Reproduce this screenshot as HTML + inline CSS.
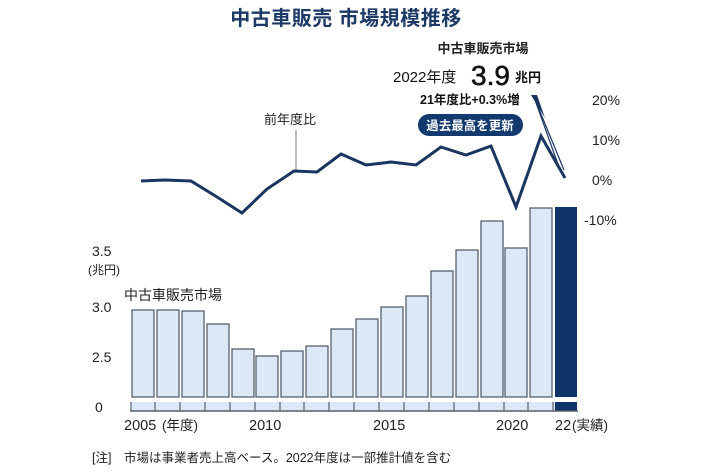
<!DOCTYPE html>
<html><head><meta charset="utf-8"><style>
body{margin:0;background:#fff;}
svg{display:block;font-family:"Liberation Sans","Noto Sans CJK JP",sans-serif;}
</style></head><body>
<svg width="710" height="474" viewBox="0 0 710 474">
<text x="346" y="25" text-anchor="middle" font-size="20" font-weight="bold" fill="#1d3a66" letter-spacing="0.5">中古車販売  市場規模推移</text>
<text x="483" y="53" text-anchor="middle" font-size="13" font-weight="bold" fill="#222">中古車販売市場</text>
<text x="393" y="82" font-size="15" fill="#111">2022年度</text>
<text x="471" y="85" font-size="28" fill="#111" stroke="#111" stroke-width="0.6">3.9</text>
<text x="515" y="82" font-size="13" font-weight="bold" fill="#111">兆円</text>
<text x="420" y="104" font-size="12.5" font-weight="bold" fill="#111">21年度比+0.3%増</text>
<rect x="418" y="114" width="105" height="22" rx="11" fill="#123a6e"/>
<text x="470" y="130" text-anchor="middle" font-size="12.5" font-weight="bold" fill="#fff">過去最高を更新</text>
<text x="264" y="124" font-size="13" fill="#222">前年度比</text>
<line x1="296" y1="130" x2="296" y2="171" stroke="#777" stroke-width="1"/>
<g font-size="14" fill="#222">
<text x="592" y="105">20%</text><text x="592" y="145">10%</text><text x="592" y="185">0%</text><text x="584" y="225">-10%</text>
<text x="92" y="256">3.5</text><text x="88" y="274" font-size="12">(兆円)</text>
<text x="92" y="312">3.0</text><text x="92" y="362">2.5</text><text x="95" y="412">0</text>
</g>
<text x="124" y="300" font-size="14" fill="#222">中古車販売市場</text>
<g fill="#dce8f6" stroke="#55606e" stroke-width="1.3">
<rect x="132" y="310" width="22" height="87"/><rect x="157" y="310" width="22" height="87"/><rect x="182" y="311" width="22" height="86"/><rect x="207" y="324" width="22" height="73"/><rect x="232" y="349" width="22" height="48"/><rect x="256" y="356" width="22" height="41"/><rect x="281" y="351" width="22" height="46"/><rect x="306" y="346" width="22" height="51"/><rect x="331" y="329" width="22" height="68"/><rect x="356" y="319" width="22" height="78"/><rect x="381" y="307" width="22" height="90"/><rect x="406" y="296" width="22" height="101"/><rect x="431" y="271" width="22" height="126"/><rect x="456" y="250" width="22" height="147"/><rect x="481" y="221" width="22" height="176"/><rect x="505" y="248" width="22" height="149"/><rect x="530" y="208" width="22" height="189"/>
</g>
<rect x="555" y="207" width="22" height="190" fill="#0f3468"/>
<rect x="131" y="402" width="424" height="9" fill="#dce8f6"/>
<rect x="555" y="402" width="22" height="9" fill="#0f3468"/>
<line x1="130" y1="411" x2="578" y2="411" stroke="#55606e" stroke-width="1.5"/>
<g stroke="#55606e" stroke-width="1.2">
<line x1="131" y1="402" x2="131" y2="411"/><line x1="155" y1="402" x2="155" y2="411"/><line x1="180" y1="402" x2="180" y2="411"/><line x1="205" y1="402" x2="205" y2="411"/><line x1="230" y1="402" x2="230" y2="411"/><line x1="255" y1="402" x2="255" y2="411"/><line x1="280" y1="402" x2="280" y2="411"/><line x1="304" y1="402" x2="304" y2="411"/><line x1="329" y1="402" x2="329" y2="411"/><line x1="354" y1="402" x2="354" y2="411"/><line x1="379" y1="402" x2="379" y2="411"/><line x1="404" y1="402" x2="404" y2="411"/><line x1="429" y1="402" x2="429" y2="411"/><line x1="454" y1="402" x2="454" y2="411"/><line x1="479" y1="402" x2="479" y2="411"/><line x1="504" y1="402" x2="504" y2="411"/><line x1="528" y1="402" x2="528" y2="411"/><line x1="553" y1="402" x2="553" y2="411"/>
</g>
<g font-size="14.5" fill="#222">
<text x="124" y="430">2005</text><text x="162" y="430" font-size="13.5">(年度)</text>
<text x="249" y="430">2010</text><text x="373" y="430">2015</text><text x="496" y="430">2020</text>
<text x="555" y="430">22</text><text x="572" y="430" font-size="13.5">(実績)</text>
</g>
<text x="92" y="462" font-size="12.5" fill="#222">[注]　市場は事業者売上高ベース。2022年度は一部推計値を含む</text>
<polyline fill="none" stroke="#1a3560" stroke-width="3" stroke-linejoin="miter" points="141,181 165,180 191,181 217,197 242,213 267,189 294,171 317,172 341,154 366,165 391,162 416,165 441,147 466,155 491,146 516,207 541,136 565,178"/>
<line x1="564" y1="170" x2="534" y2="97" stroke="#1a3560" stroke-width="1.2"/>
<line x1="560" y1="170" x2="534" y2="97" stroke="#1a3560" stroke-width="1.2"/>
<polygon points="531,95 537,95 545,118" fill="#1a3560"/>
</svg>
</body></html>
